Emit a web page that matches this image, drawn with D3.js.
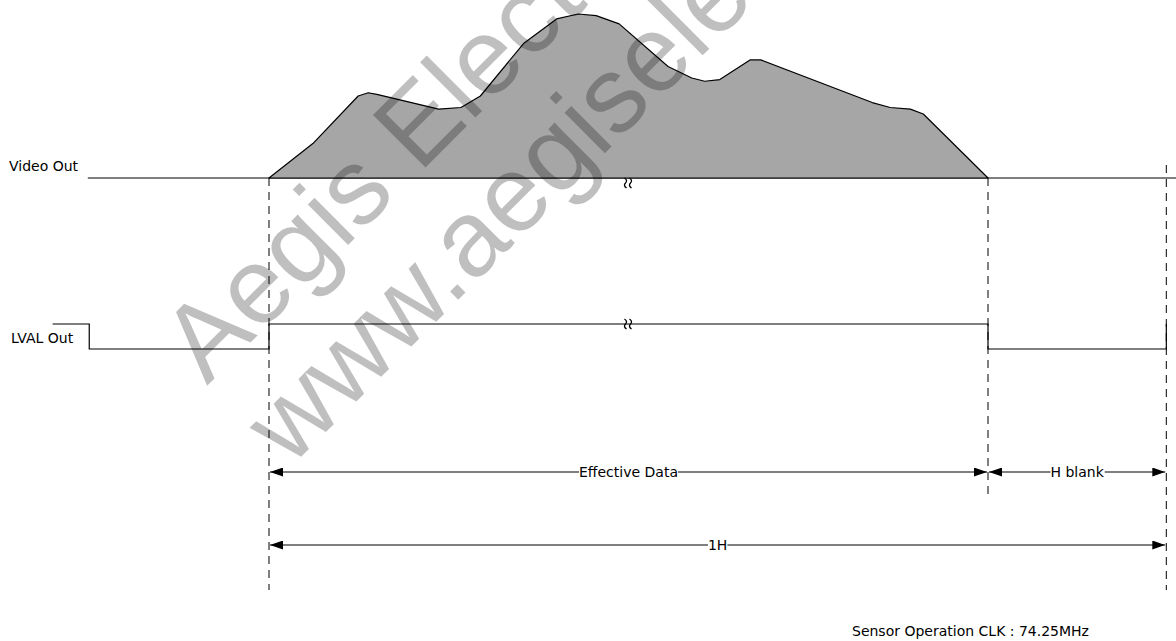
<!DOCTYPE html>
<html>
<head>
<meta charset="utf-8">
<script src="https://cdn.jsdelivr.net/npm/d3@7"></script>
<style>
  html, body { margin: 0; padding: 0; background: #fff; }
  svg { display: block; }
  text { font-family: "DejaVu Sans", Verdana, sans-serif; font-size: 14px; fill: #000; }
</style>
</head>
<body>
<div id="chart"></div>
<script>
// time is in clocks-ish units: 0 = start of effective data, 1000 = end of it
var waveTimes  = [0, 61, 124, 138, 150, 236, 267, 294, 354, 400, 430, 455, 487, 555, 588, 606, 627, 669, 684, 839, 864, 892, 910, 1000];
var waveLevels = [0, 21, 50, 52, 51, 42, 43, 50, 82, 97, 100, 99, 94, 68, 61, 59, 60, 72, 72, 46, 43, 42, 39, 0];

var lvalTimes  = [-301, -250, 0, 1000, 1248];
var lvalLevels = [1, 0, 1, 0, 1];

var signalNames = ["Video Out", "LVAL Out"];
var markTimes = [0, 1000, 1248];
var spanLabels = ["Effective Data", "H blank", "1H"];
var spanFrom = [0, 1000, 0];
var spanTo = [1000, 1248, 1248];
var breakTime = 500;
var note = "Sensor Operation CLK : 74.25MHz";
var watermarks = ["Aegis Electronics", "www.aegiselectronics.com"];

var w = 1176, h = 641;

var svg = d3.select("#chart").append("svg")
    .attr("width", w)
    .attr("height", h);

var x = d3.scaleLinear().domain([0, 1000]).range([269, 988]);
var yWave = d3.scaleLinear().domain([0, 100]).range([178, 14]);
var yLval = d3.scaleLinear().domain([0, 1]).range([349, 324]);

// --- video out ---
svg.append("line")
    .attr("x1", x(-252)).attr("x2", w)
    .attr("y1", yWave(0)).attr("y2", yWave(0))
    .attr("stroke", "#000").attr("stroke-width", 1.2);

var area = d3.line()
    .x(function (d, i) { return x(waveTimes[i]); })
    .y(function (d) { return yWave(d); });

svg.append("path")
    .attr("d", area(waveLevels) + "Z")
    .attr("fill", "#a6a6a6")
    .attr("stroke", "#000")
    .attr("stroke-width", 1.2)
    .attr("stroke-linejoin", "round");

// --- lval out ---
var step = d3.line()
    .x(function (d, i) { return x(lvalTimes[i]); })
    .y(function (d) { return yLval(d); })
    .curve(d3.curveStepAfter);

svg.append("path")
    .attr("d", step(lvalLevels))
    .attr("fill", "none")
    .attr("stroke", "#000")
    .attr("stroke-width", 1.2);

// break marks
[yWave(0) + 5, yLval(1)].forEach(function (cy) {
    [-3, 2].forEach(function (dx) {
        var cx = x(breakTime) + dx;
        svg.append("path")
            .attr("d", "M" + (cx - 1) + "," + (cy - 5) +
                " Q" + (cx + 2.5) + "," + (cy - 2.5) + " " + cx + "," + cy +
                " Q" + (cx - 2.5) + "," + (cy + 2.5) + " " + (cx + 1) + "," + (cy + 5))
            .attr("fill", "none")
            .attr("stroke", "#000")
            .attr("stroke-width", 1.3);
    });
});

// signal labels
svg.selectAll("text.sig")
    .data(signalNames)
    .enter().append("text")
    .attr("class", "sig")
    .attr("x", function (d, i) { return i ? 11 : 9; })
    .attr("y", function (d, i) { return i ? 343 : 171; })
    .text(function (d) { return d; });

// --- dashed guides ---
var guideTop = [178, 178, 165];
var guideBottom = [590, 497, 590];
svg.selectAll("line.guide")
    .data(markTimes)
    .enter().append("line")
    .attr("class", "guide")
    .attr("x1", function (d) { return x(d); })
    .attr("x2", function (d) { return x(d); })
    .attr("y1", function (d, i) { return guideTop[i]; })
    .attr("y2", function (d, i) { return guideBottom[i]; })
    .attr("stroke", "#000")
    .attr("stroke-width", 1)
    .attr("stroke-dasharray", "8,6");

// --- dimension arrows ---
var defs = svg.append("defs");
defs.append("marker")
    .attr("id", "arrow")
    .attr("viewBox", "0 0 13 9")
    .attr("refX", 13).attr("refY", 4.5)
    .attr("markerWidth", 13).attr("markerHeight", 9)
    .attr("markerUnits", "userSpaceOnUse")
    .attr("orient", "auto-start-reverse")
    .append("path")
    .attr("d", "M0,0 L13,4.5 L0,9 Z")
    .attr("fill", "#000");

var spanY = [472, 472, 545];
spanLabels.forEach(function (label, i) {
    var x1 = x(spanFrom[i]) + 1, x2 = x(spanTo[i]) - 1, y = spanY[i];
    svg.append("line")
        .attr("x1", x1).attr("x2", x2)
        .attr("y1", y).attr("y2", y)
        .attr("stroke", "#000")
        .attr("stroke-width", 1.2)
        .attr("marker-start", "url(#arrow)")
        .attr("marker-end", "url(#arrow)");
    var bg = svg.append("rect").attr("fill", "#fff");
    var t = svg.append("text")
        .attr("x", (x1 + x2) / 2)
        .attr("y", y + 5)
        .attr("text-anchor", "middle")
        .text(label);
    var bb = t.node().getBBox();
    bg.attr("x", bb.x).attr("y", y - 2).attr("width", bb.width).attr("height", 4);
});

svg.append("text")
    .attr("x", 852)
    .attr("y", 636)
    .text(note);

// --- watermark ---
var wm = svg.append("g")
    .attr("fill", "#000")
    .attr("fill-opacity", 0.25)
    .style("pointer-events", "none");
var wmPos = [[207, 386], [290, 468]];
watermarks.forEach(function (s, i) {
    wm.append("text")
        .attr("transform", "translate(" + wmPos[i][0] + "," + wmPos[i][1] + ") rotate(-45)")
        .style("font-family", "'Liberation Sans', Arial, sans-serif")
        .style("font-size", "108px")
        .style("fill", "#000")
        .text(s);
});
</script>
</body>
</html>
